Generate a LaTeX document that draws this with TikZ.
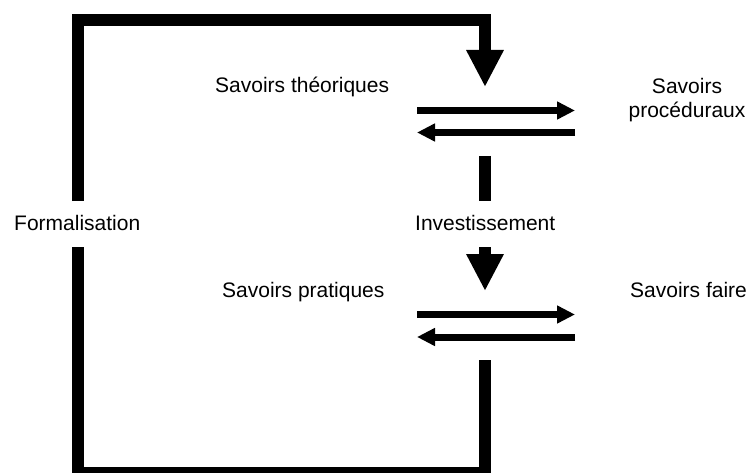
\documentclass[tikz,border=0pt]{standalone}
\usepackage{fontspec}
\setmainfont{Liberation Sans}
\usetikzlibrary{arrows.meta}
\begin{document}
\begin{tikzpicture}[x=1pt,y=-1pt,
  lbl/.style={inner sep=0pt,font=\fontsize{21}{24}\selectfont},
  thick loop/.style={line width=12pt,line join=miter,line cap=butt},
  big arrow/.style={line width=12pt,line cap=butt,-{Triangle[length=37pt,width=35pt]}},
  thin arrow/.style={line width=7pt,line cap=butt,-{Triangle[length=18pt,width=17pt]}}]
\useasboundingbox (0,0) rectangle (749,473);
% labels
\node[lbl,anchor=base west] (theo) at (215,93) {Savoirs théoriques};
\node[lbl,anchor=base] (proc1) at (687,94) {Savoirs};
\node[lbl,anchor=base] (proc2) at (687,118) {procéduraux};
\node[lbl,anchor=base west] (form) at (14,230) {Formalisation};
\node[lbl,anchor=base west] (inv) at (415,230) {Investissement};
\node[lbl,anchor=base west] (prat) at (222,297) {Savoirs pratiques};
\node[lbl,anchor=base west] (faire) at (630,297) {Savoirs faire};
% coordinates
\coordinate (tl) at (77.5,20);
\coordinate (tr) at (485,20);
\coordinate (topTip) at (485,87);
\coordinate (formTop) at (77.5,201);
\coordinate (formBot) at (77.5,247);
\coordinate (bl) at (77.5,473);
\coordinate (br) at (485,473);
\coordinate (botStart) at (485,360);
\coordinate (midA) at (485,156);
\coordinate (midB) at (485,201);
\coordinate (midC) at (485,247);
\coordinate (midTip) at (485,291);
\coordinate (a1l) at (417,110.5);
\coordinate (a1r) at (575,110.5);
\coordinate (a2l) at (417,132.5);
\coordinate (a2r) at (575,132.5);
\coordinate (a3l) at (417,314.5);
\coordinate (a3r) at (575,314.5);
\coordinate (a4l) at (417,337);
\coordinate (a4r) at (575,337);
% formalisation loop
\draw[thick loop] (botStart) -- (br) -- (bl) -- (formBot);
\draw[thick loop] (formTop) -- (tl) -- (tr) -- (485,50);
\draw[big arrow] (485,40) -- (topTip);
% investissement
\draw[thick loop] (midA) -- (midB);
\draw[big arrow] (midC) -- (midTip);
% double arrows
\draw[thin arrow] (a1l) -- (a1r);
\draw[thin arrow] (a2r) -- (a2l);
\draw[thin arrow] (a3l) -- (a3r);
\draw[thin arrow] (a4r) -- (a4l);
\end{tikzpicture}
\end{document}
